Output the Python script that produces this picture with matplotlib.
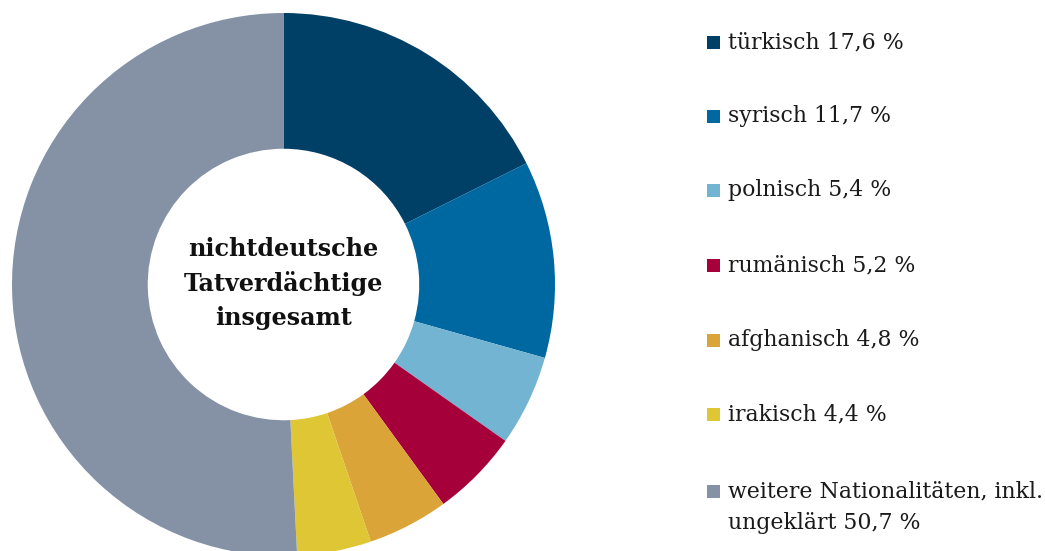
import numpy as np
import matplotlib
matplotlib.use('Agg')
import matplotlib.pyplot as plt
from matplotlib.patches import Rectangle

# Nationalities of non-German suspects, share in percent
labels = ['türkisch', 'syrisch', 'polnisch', 'rumänisch', 'afghanisch', 'irakisch',
          'weitere Nationalitäten, inkl.\nungeklärt']
shares = [17.6, 11.7, 5.4, 5.2, 4.8, 4.4, 50.7]
colors = ['#003F66', '#0068A1', '#72B4D2', '#A6003A', '#DBA438', '#DEC634', '#8592A6']

W, H = 1045, 551
fig = plt.figure(figsize=(W / 100, H / 100), dpi=100)
ax = fig.add_axes([0, 0, 1, 1])

# donut, drawn in pixel coordinates so it can run off the bottom edge
cx, cy, r = 283.5, H - 284.5, 271.5
wedges, _ = ax.pie(shares, colors=colors, startangle=90, counterclock=False,
                   center=(cx, cy), radius=r, frame=True,
                   wedgeprops=dict(width=r * 0.5, linewidth=0))
ax.set_xlim(0, W)
ax.set_ylim(0, H)
ax.set_aspect('equal')
ax.axis('off')

ax.text(cx, cy + 1, 'nichtdeutsche\nTatverdächtige\ninsgesamt', ha='center', va='center',
        family='DejaVu Serif', fontweight='bold', fontsize=17.2, linespacing=1.5,
        color='#111111')

# legend: colour square + label with value
row_y = [42, 116, 190, 265, 340, 414, 491]
for lab, val, col, y in zip(labels, shares, colors, row_y):
    yy = H - y
    ax.add_patch(Rectangle((707, yy - 6.5), 13, 13, color=col, linewidth=0))
    txt = lab + ' ' + f'{val:.1f}'.replace('.', ',') + ' %'
    if '\n' in lab:
        ax.text(728, yy + 11, txt, ha='left', va='top', family='DejaVu Serif',
                fontsize=15.8, color='#1a1a1a', linespacing=1.6)
    else:
        ax.text(728, yy, txt, ha='left', va='center', family='DejaVu Serif',
                fontsize=15.8, color='#1a1a1a')

fig.savefig('out.png', dpi=100)
